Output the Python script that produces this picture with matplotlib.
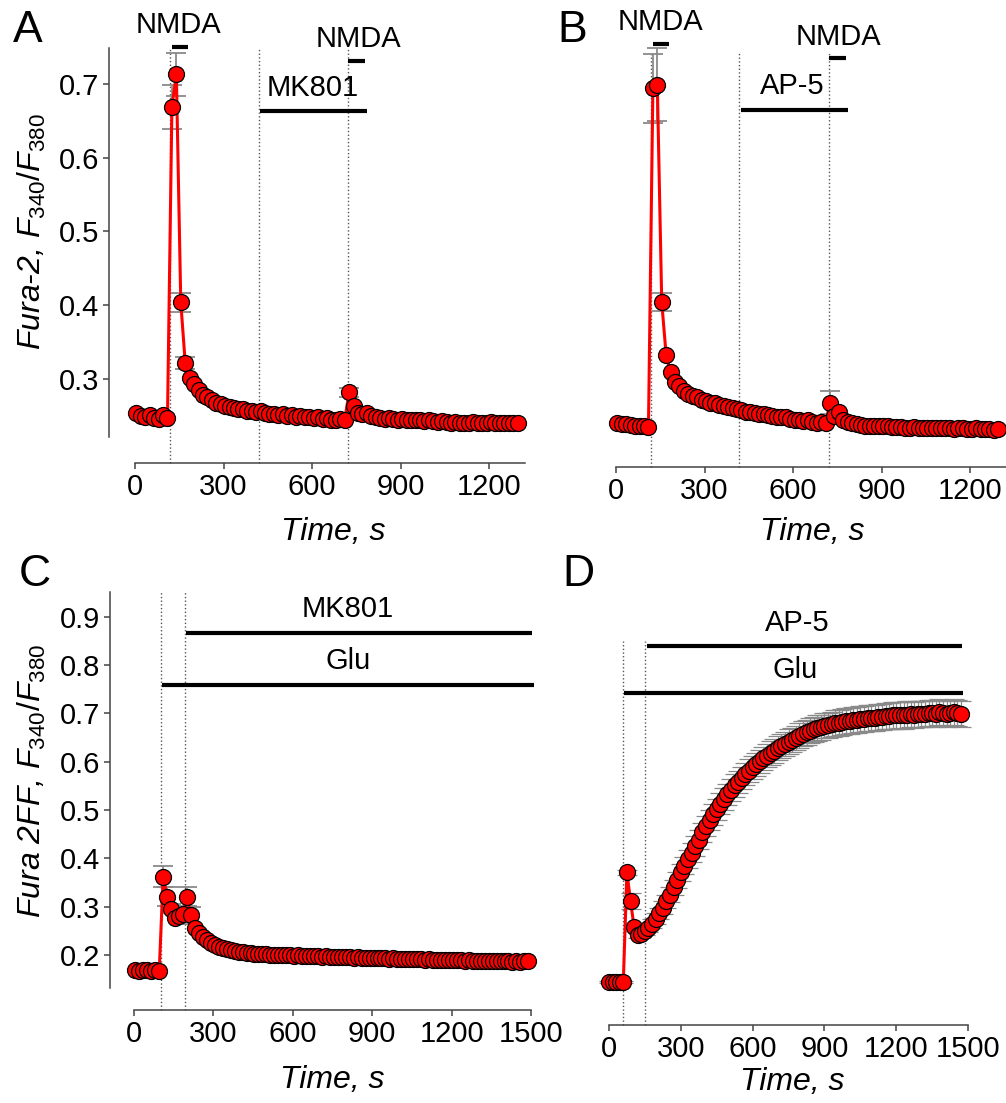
import numpy as np
import matplotlib
matplotlib.use("Agg")
import matplotlib.pyplot as plt

plt.rcParams['font.family'] = ['Liberation Sans', 'DejaVu Sans']
plt.rcParams['mathtext.fontset'] = 'custom'
plt.rcParams['mathtext.it'] = 'Liberation Sans:italic'
plt.rcParams['mathtext.rm'] = 'Liberation Sans'

# ---- data ----
# A: Fura-2, NMDA then MK801 + NMDA, 15 s sampling
a_t = np.arange(5, 1300, 15)
a_y = [0.254, 0.250, 0.249, 0.251, 0.247, 0.246, 0.251, 0.247,
       0.669, 0.713, 0.404, 0.322, 0.302, 0.293, 0.285, 0.279, 0.275, 0.271,
       0.268, 0.266, 0.264, 0.262, 0.261, 0.260, 0.259, 0.257, 0.257, 0.255,
       0.256, 0.254, 0.252, 0.253, 0.251, 0.252, 0.250, 0.251, 0.249, 0.250,
       0.248, 0.249, 0.247, 0.248, 0.246, 0.247, 0.244, 0.245, 0.246, 0.245,
       0.282, 0.263, 0.254, 0.252, 0.254, 0.250, 0.248, 0.247, 0.246, 0.247,
       0.246, 0.245, 0.246, 0.245, 0.244, 0.245, 0.244, 0.243, 0.244, 0.243,
       0.242, 0.243, 0.242, 0.241, 0.242, 0.240, 0.241, 0.240, 0.242, 0.241,
       0.240, 0.241, 0.242, 0.240, 0.241, 0.240, 0.241, 0.240, 0.240]
a_err_idx = [8, 9, 10, 11, 48]
a_err = [0.030, 0.029, 0.013, 0.008, 0.006]

# B: Fura-2, NMDA then AP-5 + NMDA
b_t = np.arange(5, 1300, 15)
b_y = [0.240, 0.239, 0.239, 0.238, 0.237, 0.236, 0.236, 0.235,
       0.694, 0.699, 0.404, 0.332, 0.309, 0.296, 0.290, 0.284, 0.280, 0.277,
       0.275, 0.272, 0.270, 0.268, 0.267, 0.265, 0.264, 0.262, 0.261, 0.259,
       0.258, 0.256, 0.255, 0.254, 0.253, 0.252, 0.251, 0.250, 0.249, 0.248,
       0.248, 0.246, 0.245, 0.244, 0.243, 0.244, 0.242, 0.240, 0.242, 0.240,
       0.268, 0.250, 0.256, 0.245, 0.242, 0.240, 0.239, 0.238, 0.237, 0.237,
       0.236, 0.237, 0.236, 0.236, 0.235, 0.235, 0.235, 0.234, 0.234, 0.235,
       0.234, 0.234, 0.234, 0.234, 0.233, 0.233, 0.234, 0.233, 0.232, 0.233,
       0.233, 0.232, 0.232, 0.233, 0.232, 0.232, 0.232, 0.231, 0.232]
b_err_idx = [8, 9, 10, 48]
b_err = [0.047, 0.050, 0.012, 0.016]

# C: Fura 2FF, Glu then Glu + MK801
c_t = np.arange(5, 1500, 15)
c_y = [0.168, 0.167, 0.168, 0.168, 0.167, 0.168, 0.166,
       0.362, 0.321, 0.296, 0.277, 0.280, 0.284, 0.321, 0.282, 0.256, 0.246,
       0.237, 0.230, 0.225, 0.220, 0.216, 0.214, 0.212, 0.210, 0.208, 0.207,
       0.206, 0.205, 0.204, 0.203, 0.203, 0.202, 0.202, 0.201, 0.201, 0.200,
       0.200, 0.199, 0.199, 0.198, 0.199, 0.198, 0.198, 0.197, 0.197, 0.197,
       0.196, 0.197, 0.196, 0.196, 0.195, 0.196, 0.195, 0.195, 0.194, 0.195,
       0.194, 0.194, 0.193, 0.194, 0.193, 0.193, 0.193, 0.192, 0.193, 0.192,
       0.192, 0.191, 0.192, 0.191, 0.191, 0.191, 0.190, 0.191, 0.190, 0.190,
       0.190, 0.189, 0.190, 0.189, 0.189, 0.189, 0.188, 0.189, 0.188, 0.188,
       0.188, 0.188, 0.187, 0.188, 0.187, 0.187, 0.187, 0.187, 0.186, 0.187,
       0.186, 0.187, 0.187]
c_err_idx = [7, 8, 9, 12, 13, 14]
c_err = [0.022, 0.020, 0.010, 0.012, 0.020, 0.017]

# D: Fura 2FF, Glu then Glu + AP-5
d_t = np.arange(0, 1471, 15)
d_y = [0.145, 0.145, 0.145, 0.145, 0.145,
       0.372, 0.313, 0.259, 0.243, 0.245, 0.250, 0.257, 0.266, 0.276, 0.287,
       0.299, 0.312, 0.326, 0.341, 0.356, 0.372, 0.386, 0.400, 0.413, 0.427,
       0.440, 0.455, 0.468, 0.481, 0.492, 0.503, 0.514, 0.524, 0.534, 0.543,
       0.552, 0.560, 0.567, 0.575, 0.583, 0.590, 0.596, 0.602, 0.608, 0.614,
       0.619, 0.624, 0.629, 0.634, 0.638, 0.643, 0.647, 0.651, 0.655, 0.659,
       0.662, 0.665, 0.668, 0.671, 0.673, 0.676, 0.677, 0.679, 0.681, 0.682,
       0.684, 0.685, 0.686, 0.687, 0.688, 0.689, 0.689, 0.691, 0.692, 0.692,
       0.694, 0.694, 0.695, 0.696, 0.697, 0.697, 0.698, 0.697, 0.699, 0.700,
       0.698, 0.700, 0.701, 0.700, 0.702, 0.703, 0.701, 0.704, 0.702, 0.700,
       0.703, 0.704, 0.702, 0.701]
d_err = [0.002, 0.002, 0.002, 0.002, 0.002,
         0.006, 0.016, 0.008, 0.006, 0.007, 0.008, 0.009, 0.010, 0.011, 0.012,
         0.013, 0.014, 0.015, 0.016, 0.017, 0.018, 0.018, 0.019, 0.019, 0.020,
         0.020, 0.020, 0.021, 0.021, 0.021, 0.022, 0.022, 0.022, 0.022, 0.023,
         0.023, 0.023, 0.023, 0.023, 0.024, 0.024, 0.024, 0.024, 0.024, 0.024,
         0.025, 0.025, 0.025, 0.025, 0.025, 0.025, 0.025, 0.025, 0.026, 0.026,
         0.026, 0.026, 0.026, 0.026, 0.026, 0.026, 0.026, 0.026, 0.027, 0.027,
         0.027, 0.027, 0.027, 0.027, 0.027, 0.027, 0.027, 0.027, 0.027, 0.027,
         0.027, 0.027, 0.027, 0.027, 0.027, 0.027, 0.027, 0.027, 0.027, 0.027,
         0.027, 0.027, 0.027, 0.027, 0.027, 0.027, 0.027, 0.027, 0.027, 0.027,
         0.027, 0.027, 0.027, 0.027]

W, H = 1006, 1103
fig = plt.figure(figsize=(W / 100, H / 100), dpi=100)


def add_ax(left, top, right, bottom):
    # axes box given in pixels from the top-left corner
    return fig.add_axes([left / W, 1 - bottom / H, (right - left) / W, (bottom - top) / H])


def fig_text(x, y, s, **kw):
    fig.text(x / W, 1 - y / H, s, ha='center', va='center', **kw)


def style(ax, xmax, xticks, ybounds=None, yticks=None):
    for s in ['top', 'right']:
        ax.spines[s].set_visible(False)
    ax.spines['bottom'].set_bounds(0, xmax)
    ax.spines['bottom'].set_color('#444444')
    ax.spines['bottom'].set_linewidth(1.1)
    ax.set_xticks(xticks)
    ax.tick_params(axis='both', labelsize=21, length=4, width=1.1,
                   color='#444444', pad=3)
    if ybounds is None:
        ax.spines['left'].set_visible(False)
        ax.set_yticks([])
    else:
        ax.spines['left'].set_bounds(*ybounds)
        ax.spines['left'].set_color('#444444')
        ax.spines['left'].set_linewidth(1.1)
        ax.set_yticks(yticks)
        ax.set_yticklabels([f"{v:.1f}" for v in yticks])


def trace(ax, t, y, err_t, err_y, err, elw=1.3):
    ax.errorbar(err_t, err_y, yerr=err, fmt='none', ecolor='#8a8a8a',
                elinewidth=elw, capsize=7, capthick=elw, zorder=2, clip_on=False)
    ax.plot(t, y, color='red', lw=2.2, marker='o', ms=11.5, mfc='red',
            mec='black', mew=0.9, zorder=3, clip_on=False)


def vlines(ax, xs, top):
    for x in xs:
        ax.plot([x, x], [ax.get_ylim()[0], top], ls=':', color='#555555', lw=1,
                zorder=1, clip_on=False)


def bar(ax, x0, x1, y, label=None, lx=None, ly=None):
    ax.plot([x0, x1], [y, y], color='black', lw=3, solid_capstyle='butt',
            clip_on=False)
    if label:
        ax.text(lx, ly, label, ha='center', va='center', fontsize=21)


# ---- A ----
axA = add_ax(109, 5, 545, 463)
axA.set_xlim(-88, 1388)
axA.set_ylim(0.1862, 0.8068)
style(axA, 1320, [0, 300, 600, 900, 1200], (0.221, 0.749), [0.3, 0.4, 0.5, 0.6, 0.7])
vlines(axA, [120, 420, 720], 0.749)
trace(axA, a_t, a_y, a_t[a_err_idx], np.array(a_y)[a_err_idx], a_err)
bar(axA, 125, 180, 0.750, 'NMDA', 146, 0.780)
bar(axA, 721, 779, 0.731, 'NMDA', 755, 0.761)
bar(axA, 423, 786, 0.663, 'MK801', 600, 0.695)

# ---- B ----
axB = add_ax(590, 5, 1006, 467)
axB.set_xlim(-88, 1321)
axB.set_ylim(0.1808, 0.8068)
style(axB, 1320, [0, 300, 600, 900, 1200])
vlines(axB, [118, 418, 720], 0.743)
trace(axB, b_t, b_y, b_t[b_err_idx], np.array(b_y)[b_err_idx], b_err)
bar(axB, 125, 180, 0.754, 'NMDA', 149, 0.784)
bar(axB, 721, 779, 0.735, 'NMDA', 752, 0.763)
bar(axB, 423, 786, 0.665, 'AP-5', 596, 0.697)

# ---- C ----
axC = add_ax(110, 560, 545, 1010)
axC.set_xlim(-91, 1553)
axC.set_ylim(0.0861, 1.0178)
style(axC, 1500, [0, 300, 600, 900, 1200, 1500], (0.132, 0.952),
      [0.2, 0.3, 0.4, 0.5, 0.6, 0.7, 0.8, 0.9])
vlines(axC, [102, 193], 0.952)
trace(axC, c_t, c_y, c_t[c_err_idx], np.array(c_y)[c_err_idx], c_err)
bar(axC, 196, 1504, 0.867, 'MK801', 808, 0.916)
bar(axC, 106, 1511, 0.759, 'Glu', 808, 0.809)

# ---- D ----
axD = add_ax(585, 560, 1006, 1025)
axD.set_xlim(-100, 1658)
axD.set_ylim(0.056, 1.019)
style(axD, 1500, [0, 300, 600, 900, 1200, 1500])
vlines(axD, [60, 150], 0.851)
trace(axD, d_t, d_y, d_t, d_y, d_err, elw=0.9)
bar(axD, 158, 1474, 0.841, 'AP-5', 786, 0.888)
bar(axD, 63, 1478, 0.743, 'Glu', 777, 0.791)

# ---- labels ----
fig_text(28, 30, 'A', fontsize=32)
fig_text(572, 30, 'B', fontsize=32)
fig_text(35, 575, 'C', fontsize=32)
fig_text(578, 575, 'D', fontsize=32)

ylab_a = r'Fura-2, $\mathit{F_{340}/F_{380}}$'
ylab_c = r'Fura 2FF, $\mathit{F_{340}/F_{380}}$'
fig_text(32, 232, ylab_a, fontsize=23, style='italic', rotation=90)
fig_text(32, 781, ylab_c, fontsize=23, style='italic', rotation=90)
for x, y in [(333, 532), (812, 532), (332, 1080), (792, 1082)]:
    fig_text(x, y, 'Time, s', fontsize=23, style='italic')

fig.savefig('out.png', dpi=100)
